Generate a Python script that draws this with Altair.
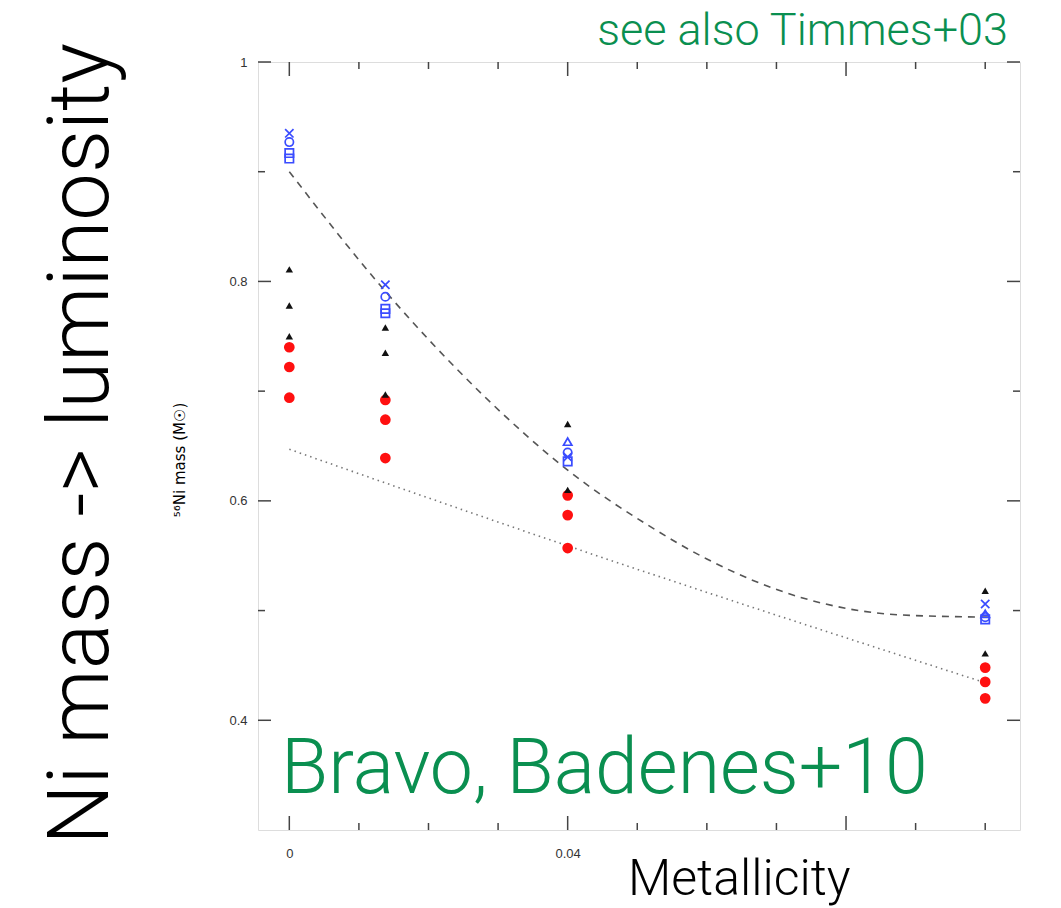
import altair as alt
import pandas as pd

# ---- data ----
# blue open symbols (models)
blue_z = [0, 0, 0, 0, 0.0138, 0.0138, 0.0138, 0.0138, 0.04, 0.04, 0.04, 0.04, 0.1, 0.1, 0.1, 0.1]
blue_m = [0.935, 0.927, 0.917, 0.912, 0.797, 0.786, 0.775, 0.771, 0.654, 0.644, 0.636, 0.640, 0.506, 0.497, 0.494, 0.492]
blue_s = ["x", "circle", "square", "square", "x", "circle", "square", "square",
          "triangle-up", "circle", "square", "x", "x", "triangle-up", "circle", "square"]

# black filled triangles
black_z = [0, 0, 0, 0.0138, 0.0138, 0.0138, 0.04, 0.04, 0.1, 0.1]
black_m = [0.811, 0.778, 0.750, 0.758, 0.735, 0.697, 0.670, 0.610, 0.518, 0.461]

# red filled symbols
red_z = [0, 0, 0, 0.0138, 0.0138, 0.0138, 0.04, 0.04, 0.04, 0.1, 0.1, 0.1]
red_m = [0.740, 0.722, 0.694, 0.692, 0.674, 0.639, 0.605, 0.587, 0.557, 0.448, 0.435, 0.420]

# dashed fit curve
dash_z = [0, 0.0138, 0.0279, 0.04, 0.0515, 0.06, 0.0735, 0.0879, 0.1006]
dash_m = [0.900, 0.791, 0.696, 0.628, 0.578, 0.547, 0.512, 0.496, 0.494]

# dotted fit curve
dot_z = [0, 0.04, 0.1006]
dot_m = [0.647, 0.559, 0.433]

# ticks / labels
x_labels = [0, 0.04]
x_major = [0, 0.04, 0.08]
x_minor = [0.01, 0.02, 0.03, 0.05, 0.06, 0.07, 0.09, 0.1]
y_labels = [0.4, 0.6, 0.8, 1.0]
y_major = [0.4, 0.6, 0.8, 1.0]
y_minor = [0.5, 0.7, 0.9]

W, H = 762, 768
GREEN = "#0a8f50"
XS = alt.Scale(domain=[-0.0045, 0.105], nice=False, zero=False)
YS = alt.Scale(domain=[0.3, 1.0], nice=False, zero=False)
XA = alt.Axis(values=x_labels, ticks=False, grid=False, domain=False, labelFontSize=13,
              labelColor="#333", labelPadding=17, title=None, labelFont="Liberation Sans",
              labelExpr="datum.value == 0 ? '0' : format(datum.value, '.2f')")
YA = alt.Axis(values=y_labels, ticks=False, grid=False, domain=False, labelFontSize=13,
              labelColor="#333", labelPadding=11, title=None, labelFont="Liberation Sans",
              labelExpr="datum.value == 1 ? '1' : format(datum.value, '.1f')")

X_SHAPE = "M-1,-1L1,1M-1,1L1,-1"

blue_df = pd.DataFrame({"z": blue_z, "m": blue_m, "s": [X_SHAPE if s == "x" else s for s in blue_s]})
black_df = pd.DataFrame({"z": black_z, "m": black_m})
red_df = pd.DataFrame({"z": red_z, "m": red_m})
dash_df = pd.DataFrame({"z": dash_z, "m": dash_m})
dot_df = pd.DataFrame({"z": dot_z, "m": dot_m})

def xy():
    return dict(x=alt.X("z:Q", scale=XS, axis=XA), y=alt.Y("m:Q", scale=YS, axis=YA))

dash = alt.Chart(dash_df).mark_line(color="#555", strokeWidth=1.6, strokeDash=[7, 6],
                                    interpolate="monotone").encode(**xy())
dot = alt.Chart(dot_df).mark_line(color="#777", strokeWidth=1.6, strokeDash=[1.5, 4],
                                  interpolate="monotone").encode(**xy())
red = alt.Chart(red_df).mark_point(filled=True, shape="circle", size=115, color="#ff1010",
                                   opacity=1).encode(**xy())
black = alt.Chart(black_df).mark_point(filled=True, shape="triangle-up", size=55, color="#111",
                                       opacity=1).encode(**xy())
blue = alt.Chart(blue_df).mark_point(filled=False, size=70, color="#3a4cff", strokeWidth=1.7,
                                     opacity=1).encode(shape=alt.Shape("s:N", scale=None), **xy())

def xticks(vals, length):
    d = pd.DataFrame({"z": vals})
    bot = alt.Chart(d).mark_rule(color="#444", strokeWidth=1.5).encode(
        x=alt.X("z:Q", scale=XS, axis=XA), y=alt.value(H), y2=alt.value(H - length))
    top = alt.Chart(d).mark_rule(color="#444", strokeWidth=1.5).encode(
        x=alt.X("z:Q", scale=XS, axis=XA), y=alt.value(0), y2=alt.value(length))
    return [bot, top]

def yticks(vals, length):
    d = pd.DataFrame({"m": vals})
    left = alt.Chart(d).mark_rule(color="#444", strokeWidth=1.5).encode(
        y=alt.Y("m:Q", scale=YS, axis=YA), x=alt.value(0), x2=alt.value(length))
    right = alt.Chart(d).mark_rule(color="#444", strokeWidth=1.5).encode(
        y=alt.Y("m:Q", scale=YS, axis=YA), x=alt.value(W), x2=alt.value(W - length))
    return [left, right]

def label(text, x, y, size, color="black", angle=0, align="left", baseline="alphabetic",
          weight=300, font="Roboto"):
    return alt.Chart(pd.DataFrame({"t": [text]})).mark_text(
        fontSize=size, color=color, angle=angle, align=align, baseline=baseline,
        fontWeight=weight, font=font).encode(x=alt.value(x), y=alt.value(y), text="t:N")

texts = [
    label("Ni mass -> luminosity", -150, 382, 85, angle=270, align="center"),
    label("see also Timmes+03", 750, -17, 45, color=GREEN, align="right"),
    label("Bravo, Badenes+10", 23, 731, 77, color=GREEN),
    label("Metallicity", 370, 833, 50),
    label("⁵⁶Ni mass (M☉)", -73, 398, 15, angle=270, align="center", weight=400,
          font="DejaVu Sans"),
]

layers = ([dot, dash] + xticks(x_major, 14) + xticks(x_minor, 7) + yticks(y_major, 13)
          + yticks(y_minor, 7) + [red, black, blue] + texts)

chart = alt.layer(*layers).properties(
    width=W, height=H,
    autosize=alt.AutoSizeParams(type="none"),
    padding={"left": 258, "top": 62, "right": 41, "bottom": 78},
).configure_view(stroke="#555", strokeWidth=2).configure(background="white")

chart.save("out.html", embed_options={"renderer": "svg", "actions": False})
